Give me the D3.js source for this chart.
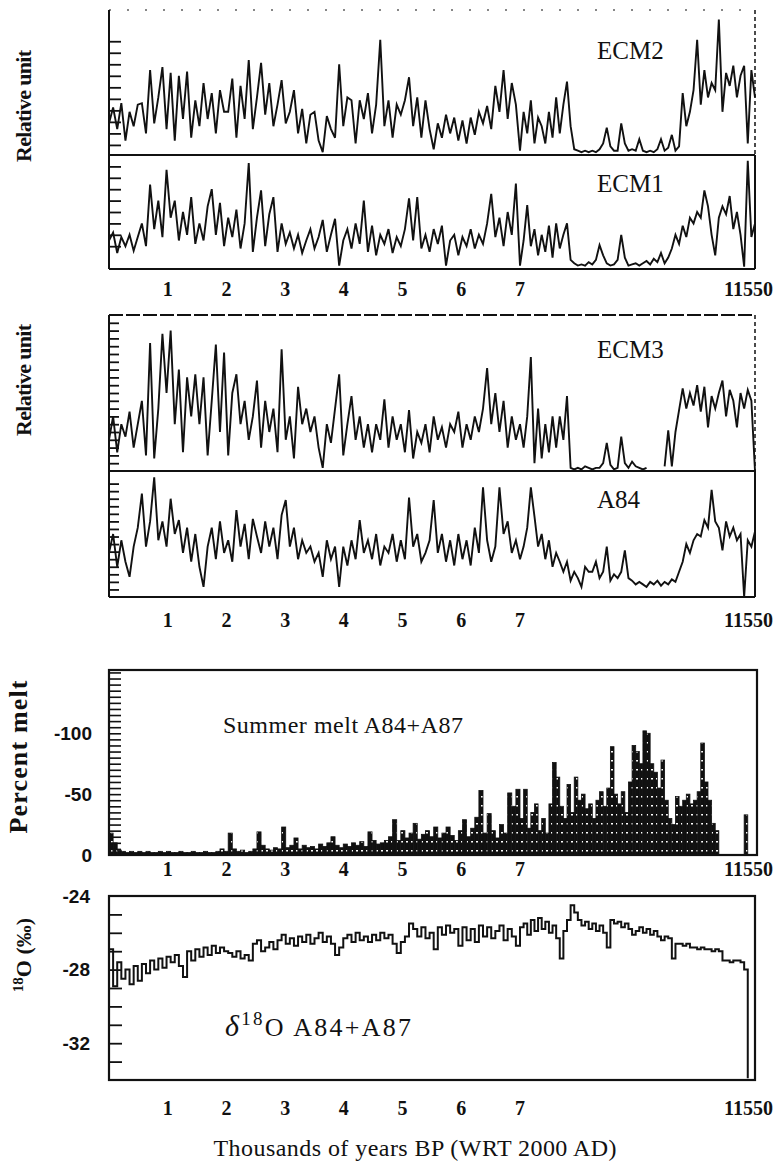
<!DOCTYPE html>
<html>
<head>
<meta charset="utf-8">
<script src="https://cdn.jsdelivr.net/npm/d3@7/dist/d3.min.js"></script>
<style>
  body { margin: 0; background: #fff; }
  svg text { font-family: "Liberation Serif", "Times New Roman", serif; fill: #111; }
</style>
</head>
<body>
<div id="target"></div>
<script>
// sampling grid, years BP
const years = [
  0,70,140,210,280,350,420,490,560,630,
  700,770,840,910,980,1050,1120,1190,1260,1330,
  1400,1470,1540,1610,1680,1750,1820,1890,1960,2030,
  2100,2170,2240,2310,2380,2450,2520,2590,2660,2730,
  2800,2870,2940,3010,3080,3150,3220,3290,3360,3430,
  3500,3570,3640,3710,3780,3850,3920,3990,4060,4130,
  4200,4270,4340,4410,4480,4550,4620,4690,4760,4830,
  4900,4970,5040,5110,5180,5250,5320,5390,5460,5530,
  5600,5670,5740,5810,5880,5950,6020,6090,6160,6230,
  6300,6370,6440,6510,6580,6650,6720,6790,6860,6930,
  7000,7070,7140,7210,7280,7350,7420,7490,7560,7630,
  7700,7770,7840,7910,7980,8050,8120,8190,8260,8330,
  8400,8470,8540,8610,8680,8750,8820,8890,8960,9030,
  9100,9170,9240,9310,9380,9450,9520,9590,9660,9730,
  9800,9870,9940,10010,10080,10150,10220,10290,10360,10430,
  10500,10570,10640,10710,10780,10850,10920,10990,11060,11130,
  11200,11270,11340,11410,11480,11550
];

// relative units (0-100 of each strip)
const ecm2 = [
  22,33,18,36,10,30,20,35, 36,15,59,22,40,61,18, 57,10,55,25,58,12,38,
  20,50,25,43,15,45,30, 30,53,12,48,25,66,18, 40,64,28,50,20,35,52,
  22,30,45,15,32,8,28, 30,10,2,27,18,12,63, 20,40,38,8,38,25,43,
  15,35,80,20,38,12,35, 28,38,54,20,40,12,38, 18,4,22,12,28,15,26,
  10,24,8,26,14,30,22, 34,18,48,30,59,25,50, 35,3,30,15,38,8,26,
  20,8,30,12,40,15,35, 51,20,4,3,2,3,2, 3,2,4,8,19,6,3,
  3,22,8,3,4,3,11, 3,2,3,2,4,11,3, 5,14,3,6,43,20,30,
  45,80,35,59,40,50,45, 94,30,57,48,62,40,55, 62,8,59,40
];
const ecm1 = [
  25,32,14,28,20,30,16,28, 40,20,74,35,60,28,87, 45,60,25,50,30,63,22,
  40,25,55,70,30,58,20, 45,28,52,18,40,93,15, 45,69,20,48,63,15,40,
  22,32,18,30,14,25,35, 18,28,43,15,30,44,3, 25,35,18,40,22,60,15,
  38,12,30,22,35,14,28, 20,35,62,25,63,18,30, 15,35,22,38,3,25,30,
  12,28,20,35,18,30,22, 40,66,28,45,20,50,30, 75,3,25,56,20,35,12,
  30,15,38,10,40,18,30, 40,8,5,3,4,3,6, 4,8,21,12,5,3,4,
  8,30,10,3,4,5,3, 5,7,4,9,6,14,5, 10,18,30,22,38,28,45,
  40,50,45,69,55,30,12, 45,55,48,64,35,50,30, 2,95,28,40
];
const ecm3 = [
  20,35,12,30,22,38,15,30, 45,10,82,8,40,88,50, 90,30,65,12,60,35,62,
  30,60,10,45,81,25,76, 10,50,62,30,45,20,35, 58,15,45,25,40,12,78,
  20,35,8,54,30,40,25, 35,15,2,30,18,40,62, 10,30,48,20,35,15,30,
  12,30,20,46,15,35,20, 30,12,39,8,25,18,30, 12,35,20,28,15,30,25,
  38,15,30,20,35,25,40, 66,30,50,25,45,15,35, 20,30,15,35,73,5,40,
  8,30,12,35,15,35,20, 48,2,1,2,1,3,2, 1,2,2,5,18,4,1,
  2,22,5,2,6,3,2, 1,2,null,null,null,null,3, 26,3,25,39,53,40,50,
  42,55,38,54,28,48,40, 50,58,35,52,45,28,50, 40,52,45,0
];
const a84 = [
  35,50,24,45,28,16,40,55, 82,40,60,95,45,60,40, 78,50,61,35,55,28,50,
  24,8,40,55,30,60,35, 45,28,69,40,58,30,62, 48,35,60,40,55,30,65,
  77,40,55,30,45,35,40, 28,35,16,45,30,40,8, 40,25,45,30,61,35,45,
  30,50,25,40,35,50,28, 45,30,79,40,50,28,35, 45,77,35,50,28,45,25,
  50,30,45,25,55,35,87, 45,28,40,87,50,60,35, 45,30,40,55,87,64,40,
  50,30,45,24,35,28,20, 28,13,20,15,8,24,20, 20,28,15,20,40,13,18,
  15,20,37,15,13,10,12, 10,8,12,10,13,9,12, 10,14,12,20,28,42,35,
  45,50,48,61,55,85,60, 55,37,60,48,55,45,50, 0,45,40,52
];

// percent melt
const melt = [
  18,10,4,3,2,3,2,3, 2,3,2,2,3,2,3, 2,2,3,2,2,3,2,
  2,3,2,2,3,5,3, 18,5,3,4,2,3,5, 19,8,5,4,6,5,23,
  6,8,14,5,8,6,7, 5,9,7,10,15,8,6, 9,7,10,8,11,7,19,
  12,9,10,12,15,29,12, 20,14,18,26,13,17,20, 15,23,14,18,23,16,12,
  20,29,15,22,31,53,18, 34,20,14,25,18,51,40, 54,30,54,22,35,42,20,
  30,18,42,76,64,40,30, 58,35,64,45,50,38,42, 30,45,52,40,55,89,50,
  42,52,35,60,90,85,75, 102,100,75,68,55,78,45, 30,25,48,40,45,50,42,
  45,52,92,60,45,26,20, 0,0,0,0,0,0,0, 33,0,0,0
];

// delta 18O, per mil
const d18o = [
  -26.9,-28.9,-27.6,-28.5,-28.0,-28.8,-27.8,-28.6,
  -27.7,-28.2,-27.5,-28.0,-27.4,-27.9,-27.3,
  -27.6,-27.2,-27.8,-28.4,-27.0,-27.5,-26.9,
  -27.3,-26.8,-27.2,-26.7,-27.1,-26.8,-27.0,
  -27.1,-27.3,-27.0,-27.4,-27.2,-27.5,-26.6,
  -26.4,-27.0,-26.8,-26.5,-26.9,-26.4,-26.1,
  -26.6,-26.3,-26.7,-26.2,-26.5,-26.1,-26.6,
  -26.3,-26.0,-26.5,-26.2,-26.6,-27.2,-26.8,
  -26.3,-26.1,-26.5,-26.0,-26.4,-26.2,-26.5,
  -26.1,-26.4,-26.0,-26.3,-26.1,-26.6,-27.1,
  -26.5,-26.2,-25.5,-25.8,-26.2,-25.7,-26.3,
  -26.0,-26.9,-25.7,-26.1,-25.6,-26.0,-25.8,
  -26.7,-25.7,-26.4,-25.8,-26.5,-25.6,-26.2,
  -25.7,-26.3,-25.9,-25.6,-26.4,-25.8,-26.2,
  -26.7,-25.7,-25.5,-26.1,-25.3,-25.9,-25.2,
  -25.8,-25.4,-26.0,-25.6,-26.3,-27.4,-25.9,
  -25.3,-24.5,-24.9,-25.3,-25.6,-25.4,-25.8,
  -25.5,-25.9,-25.6,-26.0,-26.8,-25.3,-25.5,
  -25.4,-25.7,-25.5,-25.8,-26.1,-25.9,-25.7,
  -26.0,-25.8,-26.1,-25.9,-26.2,-26.4,-26.2,
  -26.3,-27.4,-26.6,-26.6,-26.7,-26.6,-26.8,
  -26.8,-26.9,-26.8,-26.9,-26.9,-27.0,-26.9,
  -27.0,-27.5,-27.5,-27.6,-27.5,-27.5,-27.6,
  -28.0,-33.9,null,null
];

const xTicks = [1000, 2000, 3000, 4000, 5000, 6000, 7000, 11550];
const xTickLabels = ["1", "2", "3", "4", "5", "6", "7", "11550"];
const ecm2Ticks = [7, 15, 23, 31, 39, 47, 55, 63, 71, 79];
const ecm1Ticks = [20, 30, 40, 50, 60, 70, 80, 90];
const ecm3Ticks = [5,10,15,20,25,30,35,40,45,50,55,60,65,70,75,80,85,90,95];
const a84Ticks = [6,12,18,24,30,36,42,48,54,60,66,72,78,84,90];
const meltTicks = [5,10,15,20,25,30,35,40,45,50,55,60,65,70,75,80,85,90,95,100,105,110,115,120,125,130,135,140,145,150];
const meltLabels = [0, 50, 100];
const meltLabelText = ["0", "-50", "-100"];
const d18Ticks = [-33,-32,-31,-30,-29,-28,-27,-26,-25];
const d18Labels = [-24, -28, -32];

function chart() {
  const width = 775,
    height = 1166,
    left = 109,
    right = 755,
    sans = '"Liberation Sans", Arial, sans-serif';

  let svg = d3.select("#target").append("svg")
    .attr("width", width)
    .attr("height", height);

  let x = d3.scaleLinear()
    .domain([0, 7000, 11550])
    .range([left, 520, right]);

  const zip = (vals) => years.map((t, i) => [t, vals[i]]);

  // relative-unit strips, two panels with two strips each
  const strips = [
    { label: "ECM2", vals: ecm2, top: 11, bottom: 155, ticks: ecm2Ticks, tick: 12, ly: 59 },
    { label: "ECM1", vals: ecm1, top: 155, bottom: 269, ticks: ecm1Ticks, tick: 12, ly: 192 },
    { label: "ECM3", vals: ecm3, top: 315, bottom: 471, ticks: ecm3Ticks, tick: 10, ly: 358 },
    { label: "A84", vals: a84, top: 471, bottom: 597, ticks: a84Ticks, tick: 10, ly: 508 }
  ];

  strips.forEach((s) => {
    let y = d3.scaleLinear().domain([0, 100]).range([s.bottom, s.top]);
    svg.append("g")
      .attr("transform", `translate(${left},0)`)
      .call(d3.axisRight(y).tickValues(s.ticks).tickSize(s.tick).tickFormat(""))
      .call(g => g.select(".domain").remove())
      .selectAll("line").attr("stroke", "#111").attr("stroke-width", 1.8);
    let line = d3.line()
      .defined(d => d[1] != null)
      .x(d => x(d[0]))
      .y(d => y(d[1]));
    svg.append("path")
      .datum(zip(s.vals))
      .attr("fill", "none")
      .attr("stroke", "#111")
      .attr("stroke-width", 1.9)
      .attr("d", line);
    svg.append("text")
      .attr("x", 597)
      .attr("y", s.ly)
      .style("font-size", "25px")
      .text(s.label);
  });

  function frame(top, mid, bottom, dashedTop) {
    let g = svg.append("g").attr("stroke", "#111").attr("fill", "none");
    g.append("line").attr("x1", left).attr("x2", left).attr("y1", top).attr("y2", bottom).attr("stroke-width", 2);
    g.append("line").attr("x1", left).attr("x2", right).attr("y1", bottom).attr("y2", bottom).attr("stroke-width", 2.2);
    g.append("line").attr("x1", left).attr("x2", right).attr("y1", mid).attr("y2", mid).attr("stroke-width", 2.2);
    g.append("line").attr("x1", right).attr("x2", right).attr("y1", mid).attr("y2", bottom).attr("stroke-width", 2);
    g.append("line").attr("x1", right).attr("x2", right).attr("y1", top).attr("y2", mid)
      .attr("stroke-width", 1.5).attr("stroke-dasharray", "4,3");
    g.append("line").attr("x1", left).attr("x2", right).attr("y1", top).attr("y2", top)
      .attr("stroke-width", dashedTop ? 1.8 : 1.2)
      .attr("stroke-dasharray", dashedTop ? "14,3" : "2,16");
  }
  frame(10, 155, 269, false);
  frame(315, 471, 597, true);

  [106, 380].forEach((cy) => {
    svg.append("text")
      .attr("transform", `translate(31,${cy}) rotate(-90)`)
      .attr("text-anchor", "middle")
      .attr("textLength", 112)
      .style("font-size", "22px").style("font-weight", "bold")
      .text("Relative unit");
  });

  // summer melt panel
  const meltTop = 670, meltBottom = 855;
  let yMelt = d3.scaleLinear().domain([0, 152]).range([meltBottom, meltTop]);

  let defs = svg.append("defs");
  let pat = defs.append("pattern")
    .attr("id", "meltfill")
    .attr("patternUnits", "userSpaceOnUse")
    .attr("width", 5).attr("height", 9);
  pat.append("rect").attr("width", 5).attr("height", 9).attr("fill", "#111");
  pat.append("rect").attr("x", 1).attr("y", 4).attr("width", 2).attr("height", 1.5).attr("fill", "#fff");

  svg.append("g")
    .selectAll("rect")
    .data(zip(melt).filter(d => d[1] > 0))
    .enter().append("rect")
    .attr("x", d => x(d[0]))
    .attr("width", d => x(d[0] + 70) - x(d[0]))
    .attr("y", d => yMelt(d[1]))
    .attr("height", d => yMelt(0) - yMelt(d[1]))
    .attr("fill", "url(#meltfill)")
    .attr("stroke", "#111")
    .attr("stroke-width", 0.8);

  svg.append("g")
    .attr("transform", `translate(${left},0)`)
    .call(d3.axisRight(yMelt).tickValues(meltTicks).tickSize(12).tickFormat(""))
    .call(g => g.select(".domain").remove())
    .selectAll("line").attr("stroke", "#111").attr("stroke-width", 1.6);

  svg.append("rect")
    .attr("x", left).attr("y", meltTop)
    .attr("width", right + 2 - left).attr("height", meltBottom - meltTop)
    .attr("fill", "none").attr("stroke", "#111").attr("stroke-width", 2.2);

  svg.append("g")
    .selectAll("text")
    .data(meltLabels)
    .enter().append("text")
    .attr("x", 92)
    .attr("y", d => yMelt(d))
    .attr("dy", "0.36em")
    .attr("text-anchor", "end")
    .style("font-family", sans).style("font-weight", "bold").style("font-size", "19px")
    .text((d, i) => meltLabelText[i]);

  svg.append("text")
    .attr("x", 223).attr("y", 733)
    .attr("textLength", 240)
    .style("font-size", "24px")
    .text("Summer melt A84+A87");

  svg.append("text")
    .attr("transform", "translate(27,757) rotate(-90)")
    .attr("text-anchor", "middle")
    .attr("textLength", 153)
    .style("font-size", "26px").style("font-weight", "bold")
    .text("Percent melt");

  // delta 18O panel
  const dTop = 896, dBottom = 1080;
  let yD = d3.scaleLinear().domain([-34, -24]).range([dBottom, dTop]);

  svg.append("g")
    .attr("transform", `translate(${left},0)`)
    .call(d3.axisRight(yD).tickValues(d18Ticks).tickSize(13).tickFormat(""))
    .call(g => g.select(".domain").remove())
    .selectAll("line").attr("stroke", "#111").attr("stroke-width", 1.8);

  svg.append("path")
    .datum(zip(d18o))
    .attr("fill", "none")
    .attr("stroke", "#111")
    .attr("stroke-width", 2)
    .attr("d", d3.line()
      .defined(d => d[1] != null)
      .curve(d3.curveStepAfter)
      .x(d => x(d[0]))
      .y(d => yD(d[1])));

  svg.append("rect")
    .attr("x", left).attr("y", dTop)
    .attr("width", right - left).attr("height", dBottom - dTop)
    .attr("fill", "none").attr("stroke", "#111").attr("stroke-width", 2.2);

  svg.append("g")
    .selectAll("text")
    .data(d18Labels)
    .enter().append("text")
    .attr("x", 90)
    .attr("y", d => yD(d))
    .attr("dy", "0.36em")
    .attr("text-anchor", "end")
    .style("font-family", sans).style("font-weight", "bold").style("font-size", "19px")
    .text(d => d);

  let dl = svg.append("text")
    .attr("x", 225).attr("y", 1036)
    .attr("textLength", 186)
    .style("font-size", "26px");
  dl.append("tspan").style("font-style", "italic").style("font-size", "30px").text("δ");
  dl.append("tspan").attr("dy", -11).style("font-size", "19px").text("18");
  dl.append("tspan").attr("dy", 11).text("O A84+A87");

  let yl = svg.append("text")
    .attr("transform", "translate(31,955) rotate(-90)")
    .attr("text-anchor", "middle")
    .style("font-size", "22px").style("font-weight", "bold");
  yl.append("tspan").attr("dy", -8).style("font-size", "15px").text("18");
  yl.append("tspan").attr("dy", 8).text("O (‰)");

  // x tick labels under each panel
  [296, 627, 876, 1115].forEach((ty) => {
    svg.append("g")
      .selectAll("text")
      .data(xTicks)
      .enter().append("text")
      .attr("x", d => d === 11550 ? 773 : x(d))
      .attr("y", ty)
      .attr("text-anchor", d => d === 11550 ? "end" : "middle")
      .style("font-size", "20px").style("font-weight", "bold")
      .text((d, i) => xTickLabels[i]);
  });

  svg.append("text")
    .attr("x", 415).attr("y", 1156)
    .attr("text-anchor", "middle")
    .attr("textLength", 403)
    .style("font-size", "24px")
    .text("Thousands of years BP (WRT 2000 AD)");
}
chart();
</script>
</body>
</html>
